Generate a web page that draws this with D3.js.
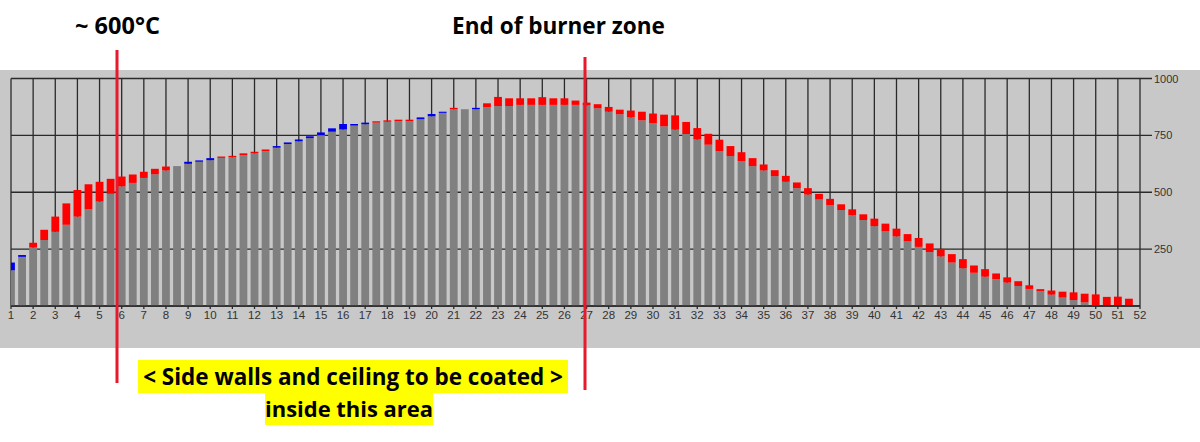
<!DOCTYPE html>
<html><head><meta charset="utf-8">
<script src="https://cdn.jsdelivr.net/npm/d3@7"></script>
<style>html,body{margin:0;padding:0;background:#fff;}svg{display:block;}</style>
</head><body>
<svg id="c" width="1200" height="442"></svg>
<script>
// positions of bars (half steps along the kiln axis)
const positions = d3.range(1, 52, 0.5);
// gray bar value (measured)
const grayVals = [157,216,257,290,326,357,393,425,459,493,526,541,563,579,596,615,625,634,641,651,654,663,671,681,696,712,724,738,751,766,776,793,799,806,810,812,813,821,834,849,865,865,865,874,879,879,884,884,884,884,884,884,882,869,854,843,829,816,804,790,775,756,732,709,681,659,637,615,596,571,546,518,490,468,444,422,399,378,351,328,306,284,260,237,218,191,166,146,129,118,103,88,75,65,50,37,26,16,4,0,0,0];
// top of coloured cap
const capTops = [191,224,278,335,393,451,510,535,546,559,569,578,590,603,613,615,634,640,650,657,660,671,678,688,703,719,732,746,763,781,800,800,806,812,816,819,819,829,844,854,871,865,871,891,919,913,913,913,918,913,913,903,894,887,875,863,859,854,846,841,838,809,782,757,731,703,676,650,622,597,572,543,518,493,471,447,425,403,384,362,340,316,299,275,251,228,206,178,162,143,126,109,91,74,68,63,60,54,51,40,41,32];
// cap colour: r = red, b = blue, n = none
const capKinds = "bbrrrrrrrrrrrrrnbbbrrrrrbbbbbbbbbrrrrbbbrnbrrrrrrrrrrrrrrrrrrrrrrrrrrrrrrrrrrrrrrrrrrrrrrrrrrrrrrrrrrrr".split("");
const xTicks = d3.range(1, 53);
const yTicks = [250, 500, 750, 1000];

const svg = d3.select("#c");
const L = 11, R = 1140, T = 78.5, B = 306;
const x = d3.scaleLinear().domain([1, 52]).range([L, R]);
const y = d3.scaleLinear().domain([0, 1000]).range([B, T]);

// panel background
svg.append("rect").attr("x", 0).attr("y", 70).attr("width", 1200).attr("height", 278).attr("fill", "#c8c8c8");

// grid
const g = svg.append("g");
g.selectAll(".vg").data(xTicks).join("line")
  .attr("x1", d => x(d)).attr("x2", d => x(d)).attr("y1", T).attr("y2", B + 3)
  .attr("stroke", "#2a2a2a").attr("stroke-width", 1.3);
g.selectAll(".hg").data([0].concat(yTicks)).join("line")
  .attr("x1", L).attr("x2", d => d === 0 ? R : R + 12).attr("y1", d => y(d)).attr("y2", d => y(d))
  .attr("stroke", "#2a2a2a").attr("stroke-width", 1.3);

// clip
svg.append("clipPath").attr("id", "pc").append("rect").attr("x", L).attr("y", T).attr("width", R - L).attr("height", B - T);

const bw = 7.8;
const bars = svg.append("g").attr("clip-path", "url(#pc)");
bars.selectAll(".bar").data(positions).join("rect")
  .attr("x", d => x(d) - bw / 2).attr("width", bw)
  .attr("y", (d, i) => y(grayVals[i])).attr("height", (d, i) => B - y(grayVals[i]))
  .attr("fill", "#808080");
bars.selectAll(".cap").data(positions).join("rect")
  .attr("x", d => x(d) - bw / 2).attr("width", bw)
  .attr("y", (d, i) => y(capTops[i])).attr("height", (d, i) => Math.max(0, y(grayVals[i]) - y(capTops[i])))
  .attr("fill", (d, i) => capKinds[i] === "b" ? "#0000ee" : "#ff0000")
  .attr("opacity", (d, i) => capKinds[i] === "n" ? 0 : 1);

// axis line on top
svg.append("line").attr("x1", L).attr("x2", R).attr("y1", B).attr("y2", B).attr("stroke", "#2a2a2a").attr("stroke-width", 1.3);

// x labels
svg.selectAll(".xl").data(xTicks).join("text")
  .attr("x", d => x(d)).attr("y", 319).attr("text-anchor", "middle")
  .attr("font-family", "Liberation Sans, Arial, sans-serif").attr("font-size", 11.5).attr("fill", "#333")
  .text(d => d);
// y labels
svg.selectAll(".yl").data(yTicks).join("text")
  .attr("x", 1154).attr("y", d => y(d) + 4).attr("text-anchor", "start")
  .attr("font-family", "Liberation Sans, Arial, sans-serif").attr("font-size", 11).attr("fill", "#333")
  .text(d => d);

// red marker lines
svg.append("line").attr("x1", 117).attr("x2", 117).attr("y1", 50).attr("y2", 383).attr("stroke", "#e8192c").attr("stroke-width", 3);
svg.append("line").attr("x1", 585).attr("x2", 585).attr("y1", 57).attr("y2", 390).attr("stroke", "#e8192c").attr("stroke-width", 3);

function fitText(sel, w) {
  const cur = sel.node().getComputedTextLength();
  const fs = parseFloat(sel.attr("font-size"));
  sel.attr("font-size", fs * w / cur);
}
const tf = "Open Sans, Lato, sans-serif";
const t1 = svg.append("text").attr("x", 117.5).attr("y", 34).attr("text-anchor", "middle")
  .attr("font-family", tf).attr("font-weight", "bold").attr("font-size", 20).attr("fill", "#000").text("~ 600°C");
fitText(t1, 85);
const t2 = svg.append("text").attr("x", 558.5).attr("y", 34).attr("text-anchor", "middle")
  .attr("font-family", tf).attr("font-weight", "bold").attr("font-size", 20).attr("fill", "#000").text("End of burner zone");
fitText(t2, 213);

// highlighted annotation
svg.append("rect").attr("x", 138).attr("y", 360).attr("width", 430).attr("height", 33).attr("fill", "#ffff00");
svg.append("rect").attr("x", 265).attr("y", 393).attr("width", 168).attr("height", 32).attr("fill", "#ffff00");
const a1 = svg.append("text").attr("x", 353).attr("y", 385).attr("text-anchor", "middle")
  .attr("font-family", tf).attr("font-weight", "bold").attr("font-size", 20).attr("fill", "#000")
  .text("< Side walls and ceiling to be coated >");
fitText(a1, 420);
const a2 = svg.append("text").attr("x", 349).attr("y", 417).attr("text-anchor", "middle")
  .attr("font-family", tf).attr("font-weight", "bold").attr("font-size", 20).attr("fill", "#000")
  .text("inside this area");
fitText(a2, 168);
</script>
</body></html>
